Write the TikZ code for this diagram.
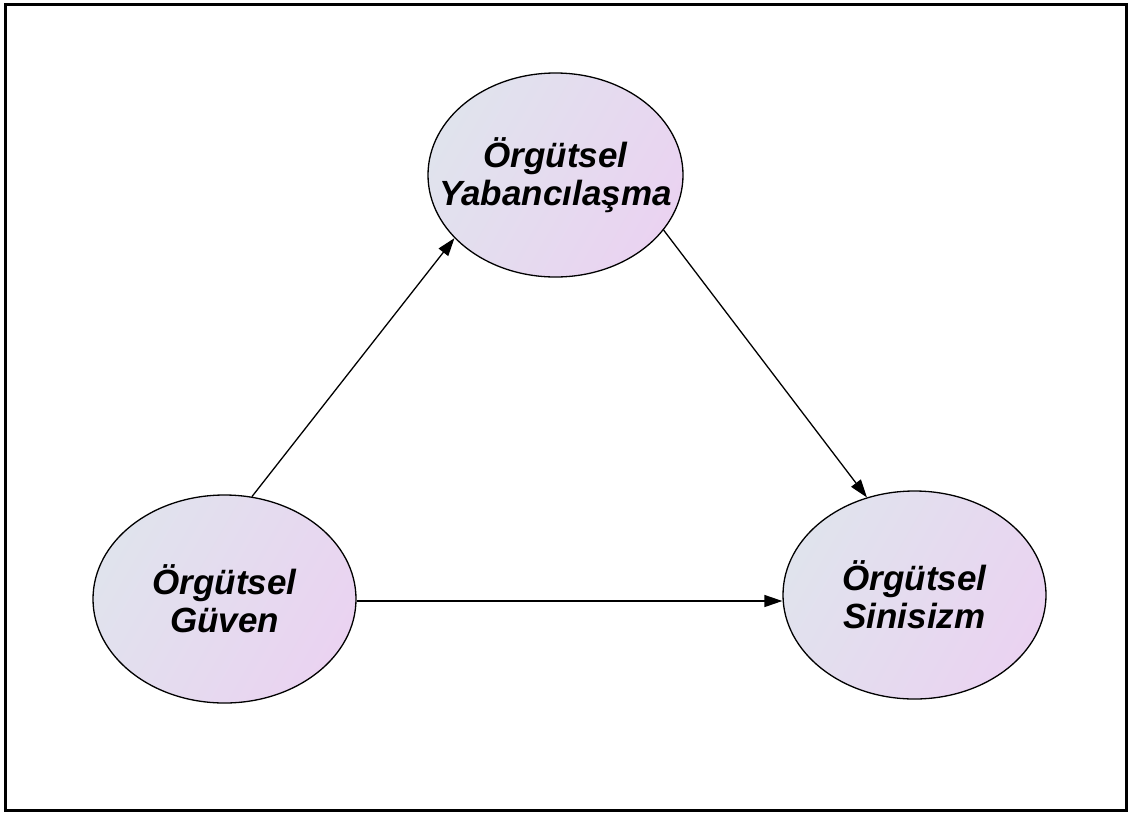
\documentclass[tikz,border=0pt]{standalone}
\usepackage{fontspec}
\setmainfont{Liberation Sans}
\usetikzlibrary{shapes.geometric,arrows.meta}
\definecolor{fillA}{RGB}{224,227,237}
\definecolor{fillB}{RGB}{234,211,241}
% two centred lines that do not widen the ellipse around them
\newcommand\conceptlines[2]{\makebox[0pt]{#1}\\\makebox[0pt]{#2}}
\begin{document}
\begin{tikzpicture}[x=1pt,y=-1pt,
  concept/.style={ellipse, draw=black, line width=1.3pt, inner sep=0pt,
    minimum width=263pt, minimum height=208pt,
    left color=fillA, right color=fillB, shading angle=60,
    align=center, font=\fontsize{35}{38}\selectfont\bfseries\itshape},
  link/.style={draw=black, line width=1.3pt, -{Triangle[length=18pt,width=12pt]}}]
  \useasboundingbox (0,0) rectangle (1129,812);
  % outer frame
  \draw[line width=3pt] (5.5,4.5) rectangle (1126.5,810.5);
  % concepts
  \node[concept, minimum width=255pt, minimum height=204pt] (yab) at (555.5,175) {\conceptlines{Örgütsel}{Yabancılaşma}};
  \node[concept] (guv) at (224.5,599) {\conceptlines{Örgütsel}{Güven}};
  \node[concept] (sin) at (914.5,595) {\conceptlines{Örgütsel}{Sinisizm}};
  % relations
  \draw[link] (guv.75) -- (yab.212);
  \draw[link] (yab.-27) -- (sin.116);
  \draw[link] (guv.east |- 0,601) -- (sin.west |- 0,601);
\end{tikzpicture}
\end{document}
